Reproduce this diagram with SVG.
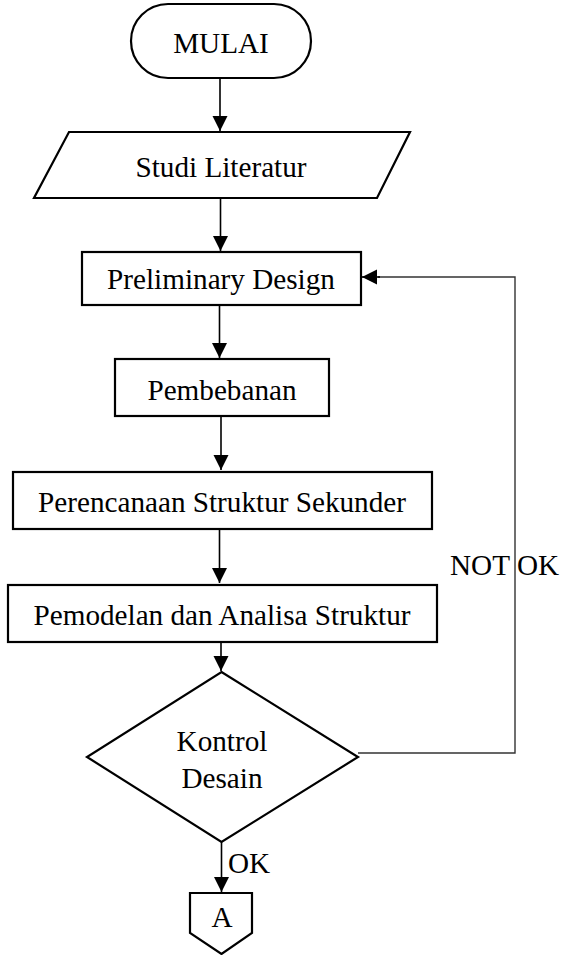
<svg xmlns="http://www.w3.org/2000/svg" width="565" height="955" viewBox="0 0 565 955">
<style>
.s{fill:#fff;stroke:#000;stroke-width:2.2}
.c{fill:none;stroke:#000;stroke-width:1.6}
.f{fill:none;stroke:#333;stroke-width:1.4}
</style>
<defs>
<marker id="ah" markerUnits="userSpaceOnUse" markerWidth="16" markerHeight="16" refX="15" refY="7.5" orient="auto">
<path d="M0,0 L15,7.5 L0,15 z" fill="#000"/>
</marker>
</defs>
<g font-family="Liberation Serif" font-size="29.2" text-anchor="middle" fill="#000">
<g id="connectors">
<line class="c" x1="220" y1="78" x2="220" y2="131" marker-end="url(#ah)"/>
<line class="c" x1="220.5" y1="198" x2="220.5" y2="251" marker-end="url(#ah)"/>
<line class="c" x1="219.5" y1="305" x2="219.5" y2="358" marker-end="url(#ah)"/>
<line class="c" x1="221" y1="417" x2="221" y2="470" marker-end="url(#ah)"/>
<line class="c" x1="219.5" y1="530" x2="219.5" y2="583" marker-end="url(#ah)"/>
<line class="c" x1="221" y1="642" x2="221" y2="671" marker-end="url(#ah)"/>
<line class="c" x1="221.5" y1="842" x2="221.5" y2="892" marker-end="url(#ah)"/>
<polyline class="f" points="358,753 515,753 515,277 378,277"/>
<line class="c" x1="380" y1="277" x2="362" y2="277" marker-end="url(#ah)"/>
<text x="480" y="575">NOT</text>
<text x="538" y="575">OK</text>
<text x="249" y="873">OK</text>
</g>
<g id="mulai">
<rect class="s" x="131" y="4" width="180" height="74" rx="37" ry="37"/>
<text x="221" y="53">MULAI</text>
</g>
<g id="studi">
<polygon class="s" points="69,132 410,132 377,198 34,198"/>
<text x="221" y="177">Studi Literatur</text>
</g>
<g id="preliminary">
<rect class="s" x="82" y="252" width="279" height="53"/>
<text x="221" y="289">Preliminary Design</text>
</g>
<g id="pembebanan">
<rect class="s" x="115" y="359" width="214" height="57"/>
<text x="222" y="400">Pembebanan</text>
</g>
<g id="perencanaan">
<rect class="s" x="13" y="472" width="419" height="57"/>
<text x="222" y="512">Perencanaan Struktur Sekunder</text>
</g>
<g id="pemodelan">
<rect class="s" x="8" y="585" width="429" height="57"/>
<text x="222" y="625">Pemodelan dan Analisa Struktur</text>
</g>
<g id="kontrol">
<polygon class="s" points="221.5,672 358,757 221.5,842 87,757"/>
<text x="222" y="751">Kontrol</text>
<text x="222" y="788">Desain</text>
</g>
<g id="a">
<polygon class="s" points="190,893 252,893 252,933 221.5,954 190,933"/>
<text x="222" y="927">A</text>
</g>
</g>
</svg>
